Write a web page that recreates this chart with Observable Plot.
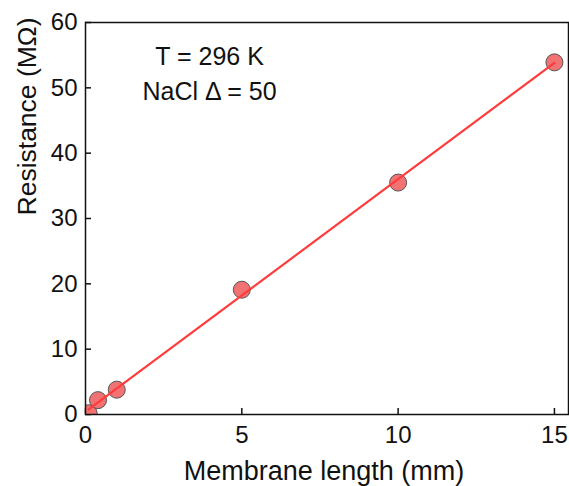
<!DOCTYPE html>
<html>
<head>
<meta charset="utf-8">
<script src="https://cdn.jsdelivr.net/npm/d3@7"></script>
<script src="https://cdn.jsdelivr.net/npm/@observablehq/plot@0.6"></script>
<style>
  body { margin: 0; background: #fff; }
  svg { display: block; }
</style>
</head>
<body>
<div id="chart"></div>
<script>
// Membrane resistance versus membrane length
const lengthsMm = [0.1, 0.4, 1, 5, 10, 15];
const resistanceMOhm = [0.2, 2.2, 3.8, 19.1, 35.5, 53.9];
const xTicks = [0, 5, 10, 15];
const yTicks = [0, 10, 20, 30, 40, 50, 60];
const annotationLines = ["T = 296 K", "NaCl \u0394 = 50"];
const xLabel = "Membrane length (mm)";
const yLabel = "Resistance (M\u03A9)";

const data = lengthsMm.map((x, i) => ({x, y: resistanceMOhm[i]}));

const chart = Plot.plot({
  width: 569,
  height: 486,
  marginLeft: 85,
  marginRight: 1,
  marginTop: 22,
  marginBottom: 72,
  style: {fontFamily: "'Liberation Sans', Arial, sans-serif", fontSize: "24px", color: "#111", background: "#fff"},
  x: {domain: [0, 15.45]},
  y: {domain: [0, 60]},
  marks: [
    Plot.axisX({ticks: xTicks, tickSize: -6, tickPadding: 17, fontSize: 24, label: null, strokeWidth: 1.5}),
    Plot.axisY({ticks: yTicks, tickSize: -6, tickPadding: 14, fontSize: 24, label: null, strokeWidth: 1.5}),
    Plot.dot(data, {x: "x", y: "y", r: 8.5, fill: "#f07272", stroke: "#555", strokeWidth: 1, clip: true}),
    Plot.linearRegressionY(data, {x: "x", y: "y", stroke: "#ff3c3c", strokeWidth: 2.2, ci: 0}),
    Plot.frame({stroke: "#111", strokeWidth: 1.5}),
    Plot.text([annotationLines.join("\n")], {frameAnchor: "top-left", dx: 124, dy: 18, lineAnchor: "top", textAnchor: "middle", fontSize: 25, lineHeight: 1.4, fill: "#111"}),
    Plot.text([xLabel], {frameAnchor: "bottom", dx: -3, dy: 46, lineAnchor: "top", fontSize: 27, fill: "#111"}),
    Plot.text([yLabel], {frameAnchor: "left", rotate: -90, dx: -68, dy: -3, lineAnchor: "top", fontSize: 26.5, fill: "#111"})
  ]
});
document.getElementById("chart").appendChild(chart);
</script>
</body>
</html>
